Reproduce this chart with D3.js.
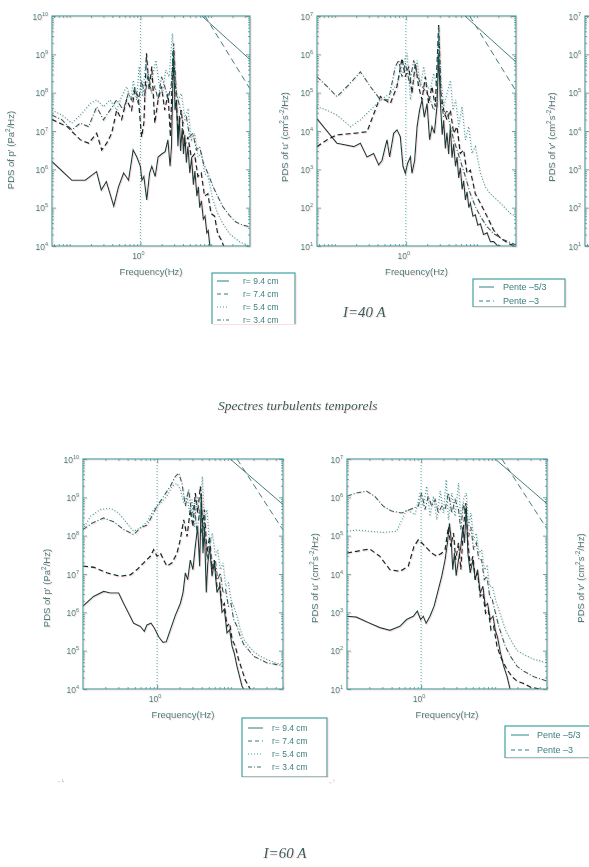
<!DOCTYPE html>
<html><head><meta charset="utf-8">
<script src="https://cdn.jsdelivr.net/npm/d3@7"></script>
<style>html,body{margin:0;padding:0;background:#fff;} svg{display:block;}</style>
</head><body>
<svg id="chart" width="589" height="867"></svg>
<script>
// ---------------- DATA ----------------
const seriesNames = ["r= 9.4 cm", "r= 7.4 cm", "r= 5.4 cm", "r= 3.4 cm"];
const penteNames = ["Pente \u20135/3", "Pente \u20133"];
const expP = [4, 5, 6, 7, 8, 9, 10];
const expU = [1, 2, 3, 4, 5, 6, 7];
const xTickValue = 1;
const topFreqRange = [0.0562, 35.48];
const bottomFreqRange = [0.1, 50.1];
const captions = ["I=40 A", "Spectres turbulents temporels", "I=60 A"];

// I = 40 A, PDS of p'
const p40_r94 = [[0.056,1.6e6],[0.107,5.2e5],[0.166,5.2e5],[0.24,8.7e5],[0.28,2.9e5],[0.33,4.8e5],[0.42,1.1e5],[0.49,3.5e5],[0.58,8e5],[0.68,5.2e5],[0.79,3.2e6],[0.89,2.1e6],[1.0,1.2e6],[1.05,5.2e5],[1.12,6.5e5],[1.23,1.6e5],[1.35,8e5],[1.45,1.2e6],[1.62,6.5e5],[1.78,2.1e6],[2.0,2.5e6],[2.24,2.9e6],[2.45,5.9e6],[2.63,1.2e6],[2.75,3.9e6],[2.95,1.3e9],[3.09,3.5e7],[3.24,6.3e7],[3.4,4e6],[3.55,2.5e7],[3.7,3e6],[3.9,1.2e7],[4.07,2.5e6],[4.25,8e6],[4.47,1.5e6],[4.7,4e6],[5.0,8e5],[5.3,2e6],[5.62,4e5],[5.9,9e5],[6.3,2e5],[6.6,3.5e5],[6.9,1e5],[7.3,1.5e5],[7.76,5e4],[8.2,6e4],[8.7,2.2e4],[9.1,2.5e4],[9.55,1.1e4],[10.0,9e3]];
const p40_r74 = [[0.056,2e7],[0.092,1.3e7],[0.141,5.9e6],[0.185,4.8e6],[0.241,8.7e6],[0.284,3.2e6],[0.334,4.8e6],[0.393,8.7e6],[0.462,3.5e7],[0.543,2e7],[0.638,6.5e7],[0.751,3.5e7],[0.836,1.2e8],[0.93,8e7],[1.04,7e6],[1.12,1.6e7],[1.22,1.07e9],[1.33,1.2e8],[1.45,4.8e8],[1.6,1.6e7],[1.78,6.5e7],[1.99,1.45e8],[2.21,3.5e7],[2.46,9.5e7],[2.66,7e6],[2.9,1.3e9],[3.16,1.2e8],[3.41,1e7],[3.79,3.5e7],[4.23,4e6],[4.71,7e6],[5.25,2e6],[5.84,2.5e6],[6.51,6.5e5],[7.26,8e5],[8.08,2e5],[9.0,2.3e5],[10.0,7e4],[11.2,6e4],[12.4,2.1e4],[13.9,1.45e4],[15.4,9e3]];
const p40_r54 = [[0.056,3.5e7],[0.078,2.6e7],[0.107,1.6e7],[0.149,2.9e7],[0.195,5.2e7],[0.241,6.5e7],[0.3,4.3e7],[0.372,6.5e7],[0.462,3.5e7],[0.543,8e7],[0.638,1.45e8],[0.736,6.5e7],[0.792,2.1e8],[0.883,6.5e7],[0.96,4.8e8],[1.07,8e7],[1.2,7e8],[1.33,1.7e8],[1.48,2.6e8],[1.65,7e8],[1.84,1.7e8],[2.05,9.5e7],[2.28,3.9e8],[2.55,2.6e8],[2.83,3.5e9],[3.09,1.7e8],[3.41,6.5e7],[3.79,9.5e7],[4.23,2.3e7],[4.71,3.5e7],[5.25,5.9e6],[5.84,8.7e6],[6.51,2.1e6],[7.26,2.6e6],[8.08,7.9e5],[9.0,6.5e5],[10.6,1.6e5],[12.4,7e4],[14.6,3.9e4],[18.1,2.1e4],[25.1,1.3e4],[34.8,1e4]];
const p40_r34 = [[0.056,2.6e7],[0.078,1.95e7],[0.107,1.07e7],[0.141,1.6e7],[0.185,1.3e7],[0.241,4.3e7],[0.3,1.95e7],[0.372,3.5e7],[0.462,6.5e7],[0.573,3.5e7],[0.674,9.5e7],[0.751,6.5e7],[0.836,1.45e8],[0.93,5.2e7],[1.04,2.1e8],[1.16,8e7],[1.29,3.2e8],[1.44,9.5e7],[1.6,1.45e8],[1.78,6.5e7],[1.99,2.6e8],[2.21,1.45e8],[2.46,6.5e7],[2.74,1.7e8],[2.96,1.95e9],[3.23,9.5e7],[3.6,4.3e7],[4.0,1.6e7],[4.47,2.3e7],[4.97,7.1e6],[5.53,8.7e6],[6.17,3.2e6],[6.87,3.9e6],[7.82,1.4e6],[9.0,7.9e5],[10.6,3.6e5],[12.4,1.95e5],[14.6,1.07e5],[18.1,6.3e4],[22.5,4.2e4],[28,3.5e4],[34.8,3.2e4]];
const p40_pente53 = [[7.4,1e10],[35.5,7.3e8]];
const p40_pente3 = [[8.2,1e10],[35.5,1.25e8]];

// I = 40 A, PDS of u'
const u40_r94 = [[0.056,2.1e4],[0.107,4.8e3],[0.185,3.9e3],[0.229,4.8e3],[0.284,2.1e3],[0.352,2.6e3],[0.415,1.3e3],[0.462,1.7e3],[0.514,3.9e3],[0.543,5.9e3],[0.592,2.1e3],[0.674,8.7e3],[0.751,1.07e4],[0.836,7.1e3],[0.912,1.2e3],[0.984,7.9e2],[1.06,1.45e3],[1.16,2.1e3],[1.22,7.9e2],[1.33,1.7e3],[1.44,1.3e4],[1.56,3.5e4],[1.69,6.5e4],[1.82,2.3e4],[1.99,5.2e4],[2.16,5.9e3],[2.33,1.3e4],[2.52,8.7e3],[2.74,4.3e4],[2.9,1.07e6],[3.05,6.5e4],[3.25,8e3],[3.41,1.9e4],[3.6,3.5e3],[3.79,9e3],[4.0,2.5e3],[4.23,1.3e4],[4.47,2e3],[4.71,4.5e3],[5.0,1.2e3],[5.25,2.1e3],[5.55,6e2],[5.84,1.1e3],[6.2,3e2],[6.51,5e2],[6.9,1.6e2],[7.26,2.6e2],[7.7,1e2],[8.08,1.3e2],[8.8,60],[9.5,65],[10.3,35],[11.2,38],[12.4,20],[13.9,22],[15.5,13],[17.2,13],[19.2,10.5],[21.4,10]];
const u40_r74 = [[0.056,3.9e3],[0.078,5.9e3],[0.107,7.9e3],[0.185,8.7e3],[0.284,9.5e3],[0.438,7.9e4],[0.605,5.2e4],[0.751,1.45e5],[0.883,7.9e5],[0.984,2.6e5],[1.1,4.8e5],[1.22,9.5e4],[1.36,5.9e5],[1.51,1.45e5],[1.69,6.5e4],[1.88,2.6e5],[2.09,5.2e4],[2.33,1.45e5],[2.6,4.3e4],[2.9,5.9e6],[3.12,9.5e4],[3.41,3.5e4],[3.79,1.95e4],[4.23,3.5e4],[4.71,8.7e3],[5.25,1.3e4],[5.84,2.6e3],[6.51,3.2e3],[7.26,7.9e2],[8.08,9.5e2],[9.5,2.3e2],[11.2,1.3e2],[13.9,59],[17.2,26],[21.4,16],[29.5,11],[35.5,10]];
const u40_r54 = [[0.056,4.3e4],[0.078,3.5e4],[0.107,2.6e4],[0.166,1.3e4],[0.229,1.95e4],[0.316,3.5e4],[0.438,6.5e4],[0.605,9.5e4],[0.751,1.7e5],[0.883,4.8e5],[1.04,1.07e6],[1.16,6.5e4],[1.29,2.1e5],[1.44,7e5],[1.6,1.45e5],[1.78,4.8e5],[1.99,1.45e5],[2.21,1.2e5],[2.46,3.2e5],[2.74,1.45e5],[2.9,5.2e6],[3.12,2.1e5],[3.41,4.3e4],[3.79,9.5e4],[4.23,2.1e5],[4.61,3.5e4],[5.02,6.5e4],[5.53,1.3e4],[6.17,4.3e4],[6.87,5.9e3],[7.66,1.3e4],[8.53,2.6e3],[9.5,3.9e3],[11.2,7.9e2],[13.1,3.5e2],[15.4,2.3e2],[19.2,1.6e2],[23.8,1.07e2],[29.5,71],[35.5,59]];
const u40_r34 = [[0.056,2.6e5],[0.078,1.45e5],[0.107,7.9e4],[0.157,1.6e5],[0.229,3.5e5],[0.316,1.45e5],[0.438,6.5e4],[0.573,6.5e4],[0.711,4.8e5],[0.792,7e5],[0.883,2.6e5],[0.984,5.9e5],[1.13,1.7e5],[1.29,7e5],[1.44,3.2e5],[1.6,1.7e5],[1.99,9.5e4],[2.21,6.5e4],[2.46,3.5e4],[2.74,4.3e4],[2.9,3.5e6],[3.12,6.5e4],[3.41,2.3e4],[3.79,3.5e4],[4.23,1.3e4],[4.71,5.9e3],[5.25,3.2e3],[5.84,1.7e3],[6.87,6.5e2],[8.08,2.3e2],[9.5,1.07e2],[11.2,59],[13.9,32],[17.2,21],[23.8,14.5],[35.5,10.7]];
const u40_pente53 = [[6.8,1e7],[35.5,6.3e5]];
const u40_pente3 = [[7.9,1e7],[35.5,1.1e5]];

// I = 60 A, PDS of p'
const p60_r94 = [[0.1,1.45e6],[0.139,2.6e6],[0.19,3.5e6],[0.234,3.2e6],[0.303,3.2e6],[0.354,1.7e6],[0.413,9.5e5],[0.483,5.2e5],[0.594,4.3e5],[0.673,3.2e5],[0.731,4.7e5],[0.828,5.2e5],[0.918,3.9e5],[1.05,2.3e5],[1.2,1.65e5],[1.33,1.7e5],[1.51,3.5e5],[1.76,8.2e5],[2.06,1.7e6],[2.24,3.2e6],[2.41,1.07e7],[2.59,7.1e6],[2.81,2.3e7],[3.05,1.3e7],[3.28,5.2e7],[3.53,1.7e8],[3.76,1.6e7],[3.96,1.3e9],[4.17,3.5e7],[4.35,1.7e8],[4.62,3.3e6],[4.82,1.7e7],[5.13,5.2e7],[5.52,8.7e6],[5.93,2e7],[6.44,3.3e6],[7.0,4.8e6],[7.53,1e6],[8.09,1.2e6],[8.79,2.9e5],[9.55,3.5e5],[10.3,1.3e5],[11.0,8.7e4],[12.0,3.9e4],[13.0,2.1e4],[14.0,1.2e4],[15.1,9e3]];
const p60_r74 = [[0.1,1.6e7],[0.139,1.5e7],[0.211,1.07e7],[0.319,8.7e6],[0.436,9.5e6],[0.536,1.3e7],[0.659,1.95e7],[0.811,2.9e7],[0.9,4.3e7],[1.0,2.9e7],[1.11,3.5e7],[1.23,2.3e7],[1.36,1.6e7],[1.59,1.95e7],[1.86,3.5e7],[2.06,7.9e7],[2.29,2.6e8],[2.54,9.5e7],[2.81,4.8e8],[3.05,1.7e8],[3.28,1.3e9],[3.53,3.9e8],[3.84,1.95e9],[4.13,1.7e8],[4.35,4.8e8],[4.72,3.5e7],[5.13,9.5e7],[5.52,1.3e7],[5.93,2.3e7],[6.44,4.8e6],[7.0,5.8e6],[7.53,1.45e6],[8.09,1.7e6],[8.79,4.3e5],[9.55,5.2e5],[10.3,1.95e5],[11.4,1.3e5],[12.6,5.9e4],[14.0,3.2e4],[15.5,1.7e4],[17.3,1.17e4],[18.5,9e3]];
const p60_r54 = [[0.1,1.45e8],[0.126,3.2e8],[0.171,4.8e8],[0.234,5.2e8],[0.303,3.9e8],[0.393,2.1e8],[0.483,1.3e8],[0.594,1.6e8],[0.731,2.3e8],[0.9,4.8e8],[1.11,7.1e8],[1.36,1.07e9],[1.59,1.95e9],[1.86,2.3e9],[2.06,1.6e9],[2.29,7.1e8],[2.54,1.07e9],[2.75,3.9e8],[2.96,8.7e8],[3.18,1.7e8],[3.46,1.07e9],[3.76,2.6e8],[4.08,3.5e9],[4.35,2.6e8],[4.72,4.8e8],[5.13,5.2e7],[5.57,1.17e8],[6.12,2.9e7],[6.58,4.3e7],[7.14,1.3e7],[7.76,1.95e7],[8.43,4.8e6],[9.16,5.8e6],[9.95,2.1e6],[10.8,1.45e6],[12.0,7.9e5],[13.3,3.5e5],[14.8,1.95e5],[17.3,1.3e5],[20.1,9.5e4],[24.8,7.1e4],[30.5,5.9e4],[39.5,4.8e4],[50.1,4.4e4]];
const p60_r34 = [[0.1,1.45e8],[0.132,2.1e8],[0.19,2.9e8],[0.259,2.3e8],[0.354,1.45e8],[0.483,1.07e8],[0.594,1.6e8],[0.731,1.9e8],[0.853,3.2e8],[1.0,5.9e8],[1.23,1.07e9],[1.51,1.95e9],[1.76,3.5e9],[1.96,4.3e9],[2.17,2.3e9],[2.41,5.9e8],[2.67,1.6e9],[2.96,3.2e8],[3.18,7.1e8],[3.46,1.17e8],[3.76,4.8e8],[4.08,7.9e7],[4.35,3.2e8],[4.72,2.3e7],[5.13,5.2e7],[5.57,1.6e7],[6.12,2.3e7],[6.58,7.1e6],[7.14,1.07e7],[7.76,3.2e6],[8.43,3.9e6],[9.16,1.45e6],[9.95,1.7e6],[10.8,6.5e5],[12.0,4.3e5],[13.3,2.3e5],[14.8,1.45e5],[16.4,1.17e5],[20.1,7.1e4],[24.8,5.9e4],[30.5,4.8e4],[39.5,4.4e4],[50.1,4.1e4]];
const p60_pente53 = [[9.7,1e10],[50.1,6.5e8]];
const p60_pente3 = [[12,1e10],[50.1,1.4e8]];

// I = 60 A, PDS of u'
const u60_r94 = [[0.1,7.9e2],[0.134,7.5e2],[0.203,5.2e2],[0.277,4e2],[0.379,3.4e2],[0.518,4.3e2],[0.638,6.5e2],[0.785,7.9e2],[0.89,1.07e3],[0.987,6.5e2],[1.07,7.9e2],[1.17,5.2e2],[1.32,7.9e2],[1.5,1.45e3],[1.71,3.9e3],[1.9,8.7e3],[2.11,2.35e4],[2.27,6.5e4],[2.42,2.1e5],[2.55,7.8e4],[2.68,1.3e4],[2.82,3.5e4],[2.98,9e3],[3.2,2.35e4],[3.44,5.2e4],[3.66,1.7e5],[3.86,6.5e4],[4.07,5.9e5],[4.29,3.5e4],[4.61,1.07e4],[5.01,2.35e4],[5.39,7.1e3],[5.79,1.3e4],[6.29,3.2e3],[6.84,4.8e3],[7.36,1.45e3],[7.91,1.7e3],[8.6,6.5e2],[9.35,7.9e2],[10.1,3.3e2],[10.8,2.2e2],[11.8,87],[13.0,40],[14.5,21],[16.1,9]];
const u60_r74 = [[0.1,3.5e4],[0.134,3.9e4],[0.203,4.5e4],[0.277,2.9e4],[0.379,1.3e4],[0.518,1.17e4],[0.672,1.6e4],[0.802,5.2e4],[0.918,7.8e4],[1.02,6.5e4],[1.19,4.8e4],[1.39,3.5e4],[1.63,2.9e4],[1.9,3.5e4],[2.11,4.3e4],[2.34,1.7e5],[2.52,5.2e4],[2.74,1.17e5],[2.94,2.35e4],[3.2,6.5e4],[3.44,1.3e4],[3.74,1.7e5],[4.03,7.1e5],[4.29,6.5e4],[4.61,1.6e4],[5.01,2.9e4],[5.39,7.1e3],[5.79,1.07e4],[6.29,2.6e3],[6.84,3.2e3],[7.43,9.5e2],[8.07,1.17e3],[8.78,3.5e2],[9.55,4.3e2],[10.6,1.3e2],[11.8,71],[13.0,48],[14.5,32],[16.9,21],[19.8,16],[24.4,13.8],[30.0,11.2],[38.9,10]];
const u60_r54 = [[0.1,1.3e5],[0.134,1.4e5],[0.203,1.3e5],[0.308,1.22e5],[0.467,1.3e5],[0.638,4.8e5],[0.828,3.5e5],[0.966,1.3e6],[1.07,5.9e5],[1.19,1.95e6],[1.32,3.2e5],[1.47,1.07e6],[1.63,2.6e5],[1.81,1.45e6],[2.0,3.9e5],[2.18,2.9e6],[2.34,2.6e5],[2.6,1.3e6],[2.88,3.2e5],[3.2,2.35e6],[3.44,2.6e5],[3.74,8.7e5],[4.07,1.3e6],[4.38,1.7e5],[4.7,3.9e5],[5.12,7.8e4],[5.56,1.17e5],[6.04,3.5e4],[6.56,4.3e4],[7.13,1.3e4],[7.75,1.6e4],[8.43,4.8e3],[9.16,4.8e3],[10.1,2.1e3],[11.2,1.17e3],[12.4,6.5e2],[13.7,3.5e2],[16.1,1.95e2],[19.8,1.0e2],[24.4,79],[33.3,60],[50.5,48]];
const u60_r34 = [[0.1,1.07e6],[0.134,1.3e6],[0.183,1.45e6],[0.237,1.07e6],[0.308,5.9e5],[0.399,4.4e5],[0.546,3.9e5],[0.708,4.8e5],[0.918,5.9e5],[1.02,1.3e6],[1.13,4.8e5],[1.25,1.07e6],[1.39,5.9e5],[1.55,8.7e5],[1.71,3.9e5],[1.9,5.9e5],[2.11,4.8e5],[2.34,1.3e6],[2.6,3.9e5],[2.88,8.7e5],[3.2,4.8e5],[3.44,1.45e5],[3.74,7.1e5],[4.07,2.6e5],[4.38,9.5e4],[4.7,1.7e5],[5.12,4.3e4],[5.56,6.5e4],[6.04,2.35e4],[6.56,2.35e4],[7.13,7.1e3],[7.75,8.7e3],[8.43,2.6e3],[9.16,2.1e3],[10.1,9.5e2],[11.2,4.3e2],[12.4,2.35e2],[13.7,1.3e2],[16.1,71],[19.8,39],[24.4,29],[33.3,21],[50.5,16]];
const u60_pente53 = [[10,1e7],[50.1,6.8e5]];
const u60_pente3 = [[12.3,1e7],[50.1,1.5e5]];

// ---------------- STYLE ----------------
const FRAME = "#2f9a9a", TEXT = "#3c7e7e", DOTC = "#35a0a0";
const SANS = "'Liberation Sans', Arial, Helvetica, sans-serif";
const SERIF = "'Liberation Serif', 'Times New Roman', serif";
const DASHES = [null, "5,3", "1,2", "5,2,1,2"];
const COLORS = ["#123f3f", "#0f2f2f", DOTC, "#1f5f5f"];
const WIDTHS = [1.15, 1.3, 1.2, 1.1];

const svg = d3.select("#chart");
svg.append("rect").attr("width", 589).attr("height", 867).attr("fill", "#fff");
const defs = svg.append("defs");
const flt = defs.append("filter").attr("id", "fringe").attr("filterUnits", "userSpaceOnUse")
  .attr("x", 0).attr("y", 0).attr("width", 589).attr("height", 867);
flt.append("feColorMatrix").attr("in", "SourceAlpha").attr("type", "matrix")
  .attr("values", "0 0 0 0 0.92  0 0 0 0 0.45  0 0 0 0 0.45  0 0 0 0.45 0").attr("result", "red");
flt.append("feOffset").attr("in", "red").attr("dx", 1).attr("dy", 0.6).attr("result", "off");
const mg = flt.append("feMerge");
mg.append("feMergeNode").attr("in", "off");
mg.append("feMergeNode").attr("in", "SourceGraphic");

const root = svg.append("g").attr("filter", "url(#fringe)");

function supText(sel, base, exp, size, supSize) {
  sel.append("tspan").text(base);
  sel.append("tspan").attr("dy", -size * 0.45).attr("font-size", supSize).text(exp);
}
function richLabel(sel, parts) {
  parts.forEach(([txt, sup], i) => {
    const prevSup = i > 0 && parts[i - 1][1];
    const t = sel.append("tspan").attr("dy", sup ? -4 : (prevSup ? 4 : 0)).text(txt);
    if (sup) t.attr("font-size", 6.5);
  });
}

function drawPanel(c) {
  const g = root.append("g");
  const x = d3.scaleLog().domain(c.xDomain).range([c.x0, c.x0 + c.w]);
  const y = d3.scaleLog().domain([Math.pow(10, c.yExps[0]), Math.pow(10, c.yExps[c.yExps.length - 1])])
    .range([c.y0 + c.h, c.y0]);
  defs.append("clipPath").attr("id", "clip" + c.id).append("rect")
    .attr("x", c.x0).attr("y", c.y0).attr("width", c.w).attr("height", c.h);

  const majY = c.yExps.map(e => Math.pow(10, e));
  const minY = [];
  c.yExps.slice(0, -1).forEach(e => { for (let k = 2; k <= 9; k++) minY.push(k * Math.pow(10, e)); });
  const majX = [xTickValue];
  const minX = [];
  for (let e = -2; e <= 2; e++) for (let k = 1; k <= 9; k++) {
    const v = k * Math.pow(10, e);
    if (v > c.xDomain[0] && v < c.xDomain[1] && Math.abs(v - 1) > 1e-9) minX.push(v);
  }
  const axes = [
    [d3.axisLeft(y).tickValues(majY).tickSize(-4), `translate(${c.x0},0)`],
    [d3.axisLeft(y).tickValues(minY).tickSize(-2), `translate(${c.x0},0)`],
    [d3.axisRight(y).tickValues(majY).tickSize(-4), `translate(${c.x0 + c.w},0)`],
    [d3.axisRight(y).tickValues(minY).tickSize(-2), `translate(${c.x0 + c.w},0)`],
    [d3.axisBottom(x).tickValues(majX).tickSize(-4), `translate(0,${c.y0 + c.h})`],
    [d3.axisBottom(x).tickValues(minX).tickSize(-2), `translate(0,${c.y0 + c.h})`],
    [d3.axisTop(x).tickValues(majX).tickSize(-4), `translate(0,${c.y0})`],
    [d3.axisTop(x).tickValues(minX).tickSize(-2), `translate(0,${c.y0})`]
  ];
  axes.forEach(([ax, tr]) => {
    const a = g.append("g").attr("transform", tr).call(ax.tickFormat(""));
    a.select(".domain").remove();
    a.selectAll(".tick line").attr("stroke", FRAME).attr("stroke-width", 0.8);
  });

  const inner = g.append("g").attr("clip-path", `url(#clip${c.id})`);
  inner.append("line").attr("x1", x(xTickValue)).attr("x2", x(xTickValue))
    .attr("y1", c.y0).attr("y2", c.y0 + c.h)
    .attr("stroke", "#46b0b0").attr("stroke-width", 1).attr("stroke-dasharray", "1,2");

  const line = d3.line().x(d => x(d[0])).y(d => y(d[1]));
  (c.series || []).forEach((s, i) => {
    inner.append("path").attr("d", line(s)).attr("fill", "none")
      .attr("stroke", COLORS[i]).attr("stroke-width", WIDTHS[i])
      .attr("stroke-dasharray", DASHES[i]);
  });
  (c.pente || []).forEach((s, i) => {
    inner.append("path").attr("d", line(s)).attr("fill", "none")
      .attr("stroke", "#2a8686").attr("stroke-width", 1)
      .attr("stroke-dasharray", i === 1 ? "6,4" : null);
  });

  g.append("rect").attr("x", c.x0).attr("y", c.y0).attr("width", c.w).attr("height", c.h)
    .attr("fill", "none").attr("stroke", FRAME).attr("stroke-width", 1.1);

  c.yExps.forEach(e => {
    const t = g.append("text").attr("x", c.x0 - 4).attr("y", y(Math.pow(10, e)) + 3.5)
      .attr("text-anchor", "end").attr("font-family", SANS).attr("font-size", 8.5).attr("fill", TEXT);
    supText(t, "10", e, 8.5, 5.5);
  });
  if (c.showX !== false) {
    const t = g.append("text").attr("x", x(xTickValue) - 2).attr("y", c.y0 + c.h + 13)
      .attr("text-anchor", "middle").attr("font-family", SANS).attr("font-size", 8.5).attr("fill", TEXT);
    supText(t, "10", "0", 8.5, 5.5);
    g.append("text").attr("x", c.x0 + c.w / 2).attr("y", c.y0 + c.h + 29)
      .attr("text-anchor", "middle").attr("font-family", SANS).attr("font-size", 9.5).attr("fill", TEXT)
      .text("Frequency(Hz)");
  }
  const yl = g.append("text").attr("transform", `translate(${c.ylx},${c.yly}) rotate(-90)`)
    .attr("text-anchor", "middle").attr("font-family", SANS).attr("font-size", 9.5).attr("fill", TEXT);
  richLabel(yl, c.ylabel);
}

const labP = [["PDS of p' (Pa"], ["2", true], ["/Hz)"]];
const labU = [["PDS of u' (cm"], ["2", true], ["s"], ["-2", true], ["/Hz)"]];
const labV = [["PDS of v' (cm"], ["2", true], ["s"], ["-2", true], ["/Hz)"]];

drawPanel({ id: "tl", x0: 52, y0: 16, w: 198, h: 230, xDomain: topFreqRange, yExps: expP,
  series: [p40_r94, p40_r74, p40_r54, p40_r34], pente: [p40_pente53, p40_pente3],
  ylabel: labP, ylx: 14, yly: 150 });
drawPanel({ id: "tm", x0: 317, y0: 16, w: 199, h: 230, xDomain: topFreqRange, yExps: expU,
  series: [u40_r94, u40_r74, u40_r54, u40_r34], pente: [u40_pente53, u40_pente3],
  ylabel: labU, ylx: 288, yly: 137 });
drawPanel({ id: "tr", x0: 585, y0: 16, w: 199, h: 230, xDomain: topFreqRange, yExps: expU,
  series: [], pente: [], showX: false, ylabel: labV, ylx: 555, yly: 137 });
drawPanel({ id: "bl", x0: 83, y0: 459, w: 200, h: 230, xDomain: bottomFreqRange, yExps: expP,
  series: [p60_r94, p60_r74, p60_r54, p60_r34], pente: [p60_pente53, p60_pente3],
  ylabel: labP, ylx: 50, yly: 588 });
drawPanel({ id: "bm", x0: 347, y0: 459, w: 200, h: 230, xDomain: bottomFreqRange, yExps: expU,
  series: [u60_r94, u60_r74, u60_r54, u60_r34], pente: [u60_pente53, u60_pente3],
  ylabel: labU, ylx: 318, yly: 578 });
{
  const yl = root.append("text").attr("transform", "translate(584,578) rotate(-90)")
    .attr("text-anchor", "middle").attr("font-family", SANS).attr("font-size", 9.5).attr("fill", TEXT);
  richLabel(yl, labV);
}

function legend(c) {
  const g = root.append("g");
  defs.append("clipPath").attr("id", "lc" + c.id).append("rect")
    .attr("x", c.x - 2).attr("y", c.y - 2).attr("width", c.w + 4).attr("height", c.clipH + 2);
  const lg = g.append("g").attr("clip-path", `url(#lc${c.id})`);
  lg.append("rect").attr("x", c.x).attr("y", c.y).attr("width", c.w).attr("height", c.h)
    .attr("fill", "#fff").attr("stroke", FRAME).attr("stroke-width", 1.1);
  c.names.forEach((n, i) => {
    const yy = c.y + c.first + i * c.step;
    lg.append("line").attr("x1", c.x + c.s0).attr("x2", c.x + c.s1).attr("y1", yy).attr("y2", yy)
      .attr("stroke", c.colors[i]).attr("stroke-width", 1).attr("stroke-dasharray", c.dashes[i]);
    lg.append("text").attr("x", c.x + c.tx).attr("y", yy + 3.3).attr("font-family", SANS)
      .attr("font-size", c.fs).attr("fill", TEXT).text(n);
  });
}
const legColors = ["#2a7c7c", "#2a7c7c", DOTC, "#2a7c7c"];
legend({ id: "a", x: 212, y: 273, w: 83, h: 60, clipH: 51, names: seriesNames, first: 8, step: 13,
  s0: 5, s1: 17, tx: 31, fs: 8.5, colors: legColors, dashes: ["", "4,3", "1,2", "4,2,1,2"] });
legend({ id: "b", x: 473, y: 279, w: 92, h: 28, clipH: 28, names: penteNames, first: 8, step: 14,
  s0: 6, s1: 21, tx: 30, fs: 9, colors: ["#2a8686", "#2a8686"], dashes: ["", "4,3"] });
legend({ id: "c", x: 242, y: 718, w: 85, h: 59, clipH: 59, names: seriesNames, first: 10, step: 13,
  s0: 6, s1: 21, tx: 30, fs: 8.5, colors: legColors, dashes: ["", "4,3", "1,2", "4,2,1,2"] });
legend({ id: "d", x: 505, y: 726, w: 95, h: 32, clipH: 32, names: penteNames, first: 9, step: 15,
  s0: 6, s1: 24, tx: 32, fs: 9, colors: ["#2a8686", "#2a8686"], dashes: ["", "4,3"] });

root.append("text").attr("x", 343).attr("y", 317).attr("font-family", SERIF).attr("font-style", "italic")
  .attr("font-size", 15).attr("fill", "#2e5e5e").text(captions[0]);
root.append("text").attr("x", 218).attr("y", 410).attr("font-family", SERIF).attr("font-style", "italic")
  .attr("font-size", 13.5).attr("fill", "#2e5e5e").text(captions[1]);
root.append("text").attr("x", 285).attr("y", 858).attr("text-anchor", "middle").attr("font-family", SERIF)
  .attr("font-style", "italic").attr("font-size", 15).attr("fill", "#2e5e5e").text(captions[2]);
root.append("text").attr("x", 58).attr("y", 783).attr("font-family", SANS).attr("font-size", 6)
  .attr("fill", "#9ab").text("- \u00b9");
root.append("text").attr("x", 329).attr("y", 784).attr("font-family", SANS).attr("font-size", 6)
  .attr("fill", "#9ab").text("- \u2077");
</script></body></html>
